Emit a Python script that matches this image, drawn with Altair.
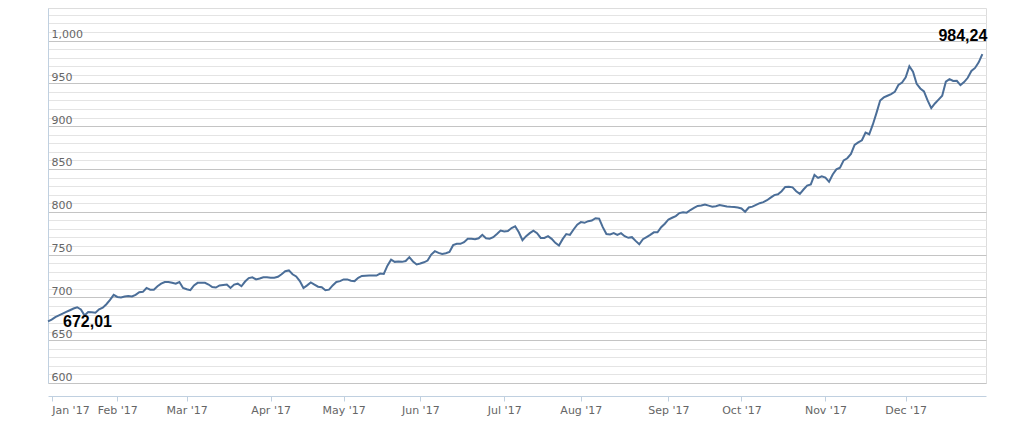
import json
import altair as alt
import pandas as pd

# ---- data ----
values = [
    672.01, 674, 677, 679, 681, 683, 685, 687, 688.5, 686,
    679, 683, 682.5, 682, 686, 688, 692, 697, 703, 700.5,
    700, 701, 701.5, 701, 703, 706, 706.5, 711, 709, 709,
    713, 716, 718, 718, 717, 716, 718, 711, 709.5, 708.5,
    714, 717, 717, 717, 715, 712, 711.5, 714, 714.5, 715,
    711, 715, 716, 713, 718.5, 722.5, 723.5, 721, 722, 723.5,
    723.5, 723, 723, 724, 727, 730.5, 731.5, 727, 724.5, 719,
    711, 714, 717.5, 715, 712.5, 711.8, 708.3, 709, 714, 718,
    719, 721, 721, 719.5, 719, 722.8, 725, 725.3, 725.5, 725.5,
    725.5, 727.8, 727.4, 737, 744, 741.5, 742, 741.5, 742.5, 747,
    742, 738.4, 739.5, 741, 743, 750, 754, 752, 750.8, 751.5,
    753, 761, 762.5, 762.5, 764.5, 768.4, 768.4, 768, 769, 773,
    769, 768.5, 770.3, 774, 778, 777, 777.5, 781, 783, 776,
    766.8, 771.5, 775, 778, 775, 769.5, 769.5, 771.5, 768.4, 763.7,
    760.6, 768, 774, 773, 779.3, 785, 787.9, 787.1, 789, 789.8,
    792.5, 792, 782, 774, 773.5, 775, 773, 775, 771.5, 769.6,
    770.3, 766, 762, 768, 770.5, 773, 776, 776, 782, 786,
    791, 793, 795, 798.5, 799.5, 799, 802, 804.5, 806.8, 807.4,
    808.5, 807.2, 806, 806.5, 807.8, 807, 806.2, 805.8, 805.5, 805,
    803.8, 800, 805, 806, 808, 810, 811.3, 813.5, 816.5, 819.5,
    820.5, 824, 829, 829.2, 828.5, 824, 821, 826, 830.5, 832,
    843, 839.5, 841.5, 840, 835, 843.6, 849.5, 851.4, 860, 862.5,
    867.5, 878, 881, 883.5, 892.4, 890.5, 902, 915.5, 930, 933.5,
    935.5, 937.5, 940, 948, 951, 957, 970, 963.5, 949.5, 944,
    940.5, 930, 921, 926.5, 931, 935.5, 952, 955, 952.8, 953,
    948, 951.5, 956.5, 964.5, 968, 974.5, 984.24,
]
sessions = list(range(len(values)))  # trading-session index

month_sessions = [1, 19, 38, 61, 81, 102, 125, 146, 170, 190, 213, 235]
month_labels = ["Jan '17", "Feb '17", "Mar '17", "Apr '17", "May '17", "Jun '17",
                "Jul '17", "Aug '17", "Sep '17", "Oct '17", "Nov '17", "Dec '17"]

grid_values = list(range(600, 1040, 10))

first_label = "672,01"
last_label = "984,24"

# ---- build ----
df = pd.DataFrame({"session": sessions, "value": values})
ann_first = pd.DataFrame({"session": [sessions[0]], "value": [values[0]], "label": [first_label]})
ann_last = pd.DataFrame({"session": [sessions[-1]], "value": [values[-1]], "label": [last_label]})

label_expr = ""
for s, lab in zip(month_sessions, month_labels):
    label_expr += f"datum.value == {s} ? {json.dumps(lab)} : "
label_expr += "''"

x_scale = alt.Scale(domain=[0, 257], nice=False, zero=False)
y_scale = alt.Scale(domain=[600, 1038], nice=False, zero=False)

x_axis = alt.Axis(
    values=month_sessions, tickCount=100, labelExpr=label_expr, title=None, grid=False,
    offset=13, domainColor="#C0D0E0", tickColor="#C0D0E0", tickSize=5,
    labelPadding=3, labelColor="#666666", labelFont="DejaVu Sans",
    labelFontSize=11, labelOverlap=False, labelFlush=5, labelAngle=0,
)
y_axis = alt.Axis(
    values=grid_values, tickCount=200, title=None, orient="left",
    labelExpr="datum.value % 50 === 0 ? format(datum.value, ',') : ''",
    labelAlign="left", labelBaseline="bottom", labelPadding=-3, labelOffset=-1,
    ticks=False, tickSize=0, domainColor="#C0D0E0",
    gridColor={"condition": {"test": "datum.value % 50 === 0", "value": "#C4C4C4"},
               "value": "#E4E4E4"},
    labelColor="#666666", labelFont="DejaVu Sans", labelFontSize=11,
    labelOverlap=False,
)

line = alt.Chart(df).mark_line(color="#4B6E98", strokeWidth=2).encode(
    x=alt.X("session:Q", scale=x_scale, axis=x_axis),
    y=alt.Y("value:Q", scale=y_scale, axis=y_axis),
)

t_first = alt.Chart(ann_first).mark_text(
    align="left", baseline="middle", dx=15, dy=1, font="Liberation Sans",
    fontWeight="bold", fontSize=16, color="#000000",
).encode(x=alt.X("session:Q", scale=x_scale), y=alt.Y("value:Q", scale=y_scale), text="label:N")

t_last = alt.Chart(ann_last).mark_text(
    align="right", baseline="middle", dx=5, dy=-18, font="Liberation Sans",
    fontWeight="bold", fontSize=16, color="#000000",
).encode(x=alt.X("session:Q", scale=x_scale), y=alt.Y("value:Q", scale=y_scale), text="label:N")

chart = alt.layer(line, t_first, t_last).properties(
    width=938, height=375,
    autosize=alt.AutoSizeParams(type="none"),
    padding={"left": 40, "top": 0, "right": 20, "bottom": 45},
).configure_view(strokeWidth=0).configure(background="#ffffff")

chart.save("out.html", embed_options={"renderer": "svg", "actions": False})
